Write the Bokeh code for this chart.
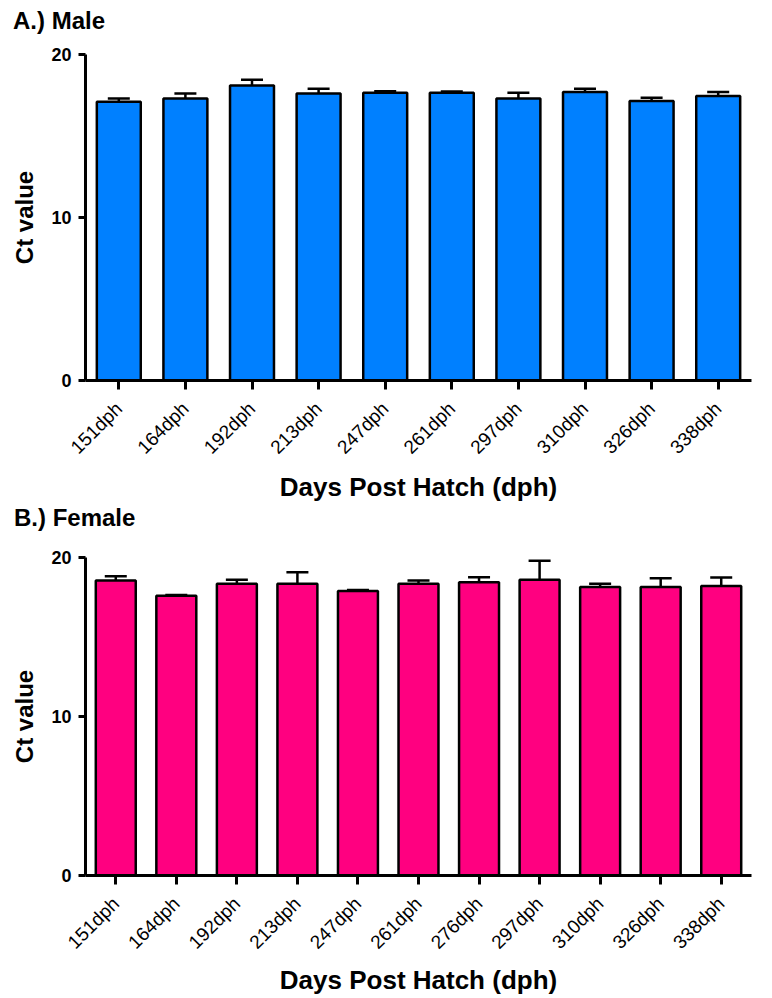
import math
from bokeh.plotting import figure
from bokeh.models import (ColumnDataSource, FactorRange, Range1d, FixedTicker,
                          Whisker, TeeHead, Div)
from bokeh.layouts import column
from bokeh.embed import file_html
from bokeh.resources import INLINE

# ---------------- data ----------------
male_days = ["151dph", "164dph", "192dph", "213dph", "247dph",
             "261dph", "297dph", "310dph", "326dph", "338dph"]
male_ct = [17.1, 17.3, 18.1, 17.6, 17.65, 17.65, 17.3, 17.7, 17.15, 17.45]
male_err = [0.2, 0.3, 0.35, 0.3, 0.1, 0.08, 0.35, 0.2, 0.2, 0.25]

female_days = ["151dph", "164dph", "192dph", "213dph", "247dph", "261dph",
               "276dph", "297dph", "310dph", "326dph", "338dph"]
female_ct = [18.55, 17.6, 18.35, 18.35, 17.9, 18.35, 18.45, 18.6, 18.15, 18.15, 18.2]
female_err = [0.27, 0.04, 0.25, 0.73, 0.05, 0.2, 0.31, 1.2, 0.2, 0.55, 0.54]

y_ticks = [0, 10, 20]

FONT = "Liberation Sans"


def make_title(text, height, pad_top, pad_left):
    html = ('<div style="padding:%dpx 0 0 %dpx; font-family:\'%s\'; font-weight:bold; '
            'font-size:24px; line-height:24px; color:black; white-space:nowrap;">%s</div>'
            % (pad_top, pad_left, FONT, text))
    return Div(text=html, width=764, height=height, margin=(0, 0, 0, 0))


def make_panel(days, vals, errs, color, width, height,
               mb_left, mb_right, mb_top, mb_bottom, lab_standoff, axlab_standoff):
    src = ColumnDataSource(dict(
        day=days, ct=vals,
        upper=[v + e for v, e in zip(vals, errs)],
    ))
    p = figure(x_range=FactorRange(*days, range_padding=0),
               y_range=Range1d(0, 20),
               width=width, height=height,
               min_border_left=mb_left, min_border_right=mb_right,
               min_border_top=mb_top, min_border_bottom=mb_bottom,
               output_backend="svg", toolbar_location=None,
               background_fill_color="white", border_fill_color="white",
               margin=(0, 0, 0, 0))
    p.outline_line_color = None
    p.xgrid.visible = False
    p.ygrid.visible = False

    p.vbar(x="day", top="ct", bottom=0, width=0.66, source=src,
           fill_color=color, line_color="black", line_width=2.5)

    w = Whisker(base="day", lower="ct", upper="upper", source=src,
                line_color="black", line_width=2.5,
                upper_head=TeeHead(size=22, line_color="black", line_width=2.5),
                lower_head=None)
    p.add_layout(w)

    # axes
    for ax in (p.xaxis[0], p.yaxis[0]):
        ax.axis_line_width = 3
        ax.axis_line_color = "black"
        ax.major_tick_line_width = 3
        ax.major_tick_line_color = "black"
        ax.major_tick_in = 0
        ax.minor_tick_line_color = None

    p.yaxis.ticker = FixedTicker(ticks=y_ticks)
    p.yaxis.major_tick_out = 7
    p.yaxis.major_label_text_font = FONT
    p.yaxis.major_label_text_font_style = "bold"
    p.yaxis.major_label_text_font_size = "18px"
    p.yaxis.major_label_text_color = "black"
    p.yaxis.major_label_standoff = 7
    p.yaxis.axis_label = "Ct value"
    p.yaxis.axis_label_text_font = FONT
    p.yaxis.axis_label_text_font_style = "bold"
    p.yaxis.axis_label_text_font_size = "24px"
    p.yaxis.axis_label_text_color = "black"
    p.yaxis.axis_label_standoff = 10

    p.xaxis.major_tick_out = 9
    p.xaxis.major_label_orientation = math.pi / 4
    p.xaxis.major_label_text_font = FONT
    p.xaxis.major_label_text_font_size = "19px"
    p.xaxis.major_label_text_color = "black"
    p.xaxis.major_label_standoff = lab_standoff
    p.xaxis.axis_label = "Days Post Hatch (dph)"
    p.xaxis.axis_label_text_font = FONT
    p.xaxis.axis_label_text_font_style = "bold"
    p.xaxis.axis_label_text_font_size = "26px"
    p.xaxis.axis_label_text_color = "black"
    p.xaxis.axis_label_standoff = axlab_standoff
    return p


title_a = make_title("A.) Male", 40, 9, 13)
top = make_panel(male_days, male_ct, male_err, "#0080FF",
                 764, 465, 85, 7, 14, 122, 16, 4)
title_b = make_title("B.) Female", 40, 1, 14)
bottom = make_panel(female_days, female_ct, female_err, "#FF0080",
                    764, 453, 79, 13, 12, 120, 16, 2)

layout = column(title_a, top, title_b, bottom, spacing=0)

open("out.html", "w").write(file_html(layout, INLINE))
